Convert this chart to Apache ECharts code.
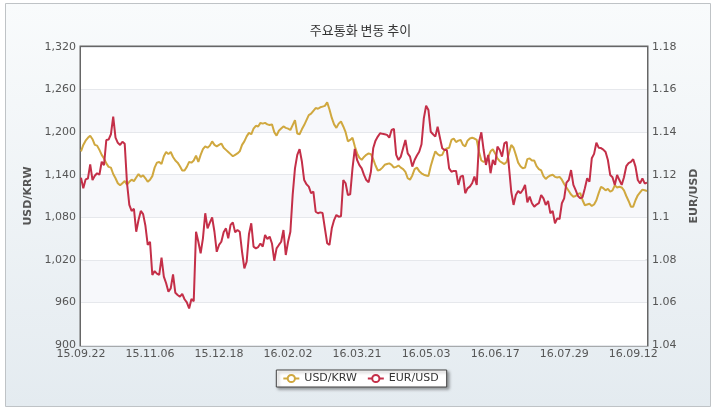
<!DOCTYPE html>
<html>
<head>
<meta charset="utf-8">
<script src="https://cdn.jsdelivr.net/npm/echarts@6/dist/echarts.min.js"></script>
<style>
html,body{margin:0;padding:0;background:#fff;}
#chart{width:721px;height:409px;}
</style>
</head>
<body>
<div id="chart"></div>
<script>
var titleText = '주요통화 변동 추이';
var seriesNames = ['USD/KRW', 'EUR/USD'];
var dates = [
'15.09.22','15.09.23','15.09.24','15.09.25','15.09.30','15.10.01','15.10.02','15.10.05','15.10.06','15.10.07',
'15.10.08','15.10.12','15.10.13','15.10.14','15.10.15','15.10.16','15.10.19','15.10.20','15.10.21','15.10.22',
'15.10.23','15.10.26','15.10.27','15.10.28','15.10.29','15.10.30','15.11.02','15.11.03','15.11.04','15.11.05',
'15.11.06','15.11.09','15.11.10','15.11.11','15.11.12','15.11.13','15.11.16','15.11.17','15.11.18','15.11.19',
'15.11.20','15.11.23','15.11.24','15.11.25','15.11.26','15.11.27','15.11.30','15.12.01','15.12.02','15.12.03',
'15.12.04','15.12.07','15.12.08','15.12.09','15.12.10','15.12.11','15.12.14','15.12.15','15.12.16','15.12.17',
'15.12.18','15.12.21','15.12.22','15.12.23','15.12.24','15.12.28','15.12.29','15.12.30','15.12.31','16.01.04',
'16.01.05','16.01.06','16.01.07','16.01.08','16.01.11','16.01.12','16.01.13','16.01.14','16.01.15','16.01.18',
'16.01.19','16.01.20','16.01.21','16.01.22','16.01.25','16.01.26','16.01.27','16.01.28','16.01.29','16.02.01',
'16.02.02','16.02.03','16.02.04','16.02.05','16.02.11','16.02.12','16.02.15','16.02.16','16.02.17','16.02.18',
'16.02.19','16.02.22','16.02.23','16.02.24','16.02.25','16.02.26','16.02.29','16.03.02','16.03.03','16.03.04',
'16.03.07','16.03.08','16.03.09','16.03.10','16.03.11','16.03.14','16.03.15','16.03.16','16.03.17','16.03.18',
'16.03.21','16.03.22','16.03.23','16.03.24','16.03.25','16.03.28','16.03.29','16.03.30','16.03.31','16.04.01',
'16.04.04','16.04.05','16.04.06','16.04.07','16.04.08','16.04.11','16.04.12','16.04.14','16.04.15','16.04.18',
'16.04.19','16.04.20','16.04.21','16.04.22','16.04.25','16.04.26','16.04.27','16.04.28','16.04.29','16.05.02',
'16.05.03','16.05.04','16.05.09','16.05.10','16.05.11','16.05.12','16.05.13','16.05.16','16.05.17','16.05.18',
'16.05.19','16.05.20','16.05.23','16.05.24','16.05.25','16.05.26','16.05.27','16.05.30','16.05.31','16.06.01',
'16.06.02','16.06.03','16.06.07','16.06.08','16.06.09','16.06.10','16.06.13','16.06.14','16.06.15','16.06.16',
'16.06.17','16.06.20','16.06.21','16.06.22','16.06.23','16.06.24','16.06.27','16.06.28','16.06.29','16.06.30',
'16.07.01','16.07.04','16.07.05','16.07.06','16.07.07','16.07.08','16.07.11','16.07.12','16.07.13','16.07.14',
'16.07.15','16.07.18','16.07.19','16.07.20','16.07.21','16.07.22','16.07.25','16.07.26','16.07.27','16.07.28',
'16.07.29','16.08.01','16.08.02','16.08.03','16.08.04','16.08.05','16.08.08','16.08.09','16.08.10','16.08.11',
'16.08.12','16.08.16','16.08.17','16.08.18','16.08.19','16.08.22','16.08.23','16.08.24','16.08.25','16.08.26',
'16.08.29','16.08.30','16.08.31','16.09.01','16.09.02','16.09.05','16.09.06','16.09.07','16.09.08','16.09.09',
'16.09.12','16.09.13','16.09.19','16.09.20','16.09.21','16.09.22','16.09.23'
];
var usdKrw = [
1173,1182,1188,1192,1195,1190,1182,1181,1175,1168,
1163,1156,1151,1150,1141,1135,1128,1125,1128,1131,
1126,1130,1133,1131,1136,1141,1137,1139,1135,1130,
1133,1138,1150,1157,1158,1155,1166,1172,1169,1172,
1165,1160,1157,1152,1146,1146,1151,1158,1157,1160,
1167,1158,1168,1176,1180,1178,1181,1187,1182,1180,
1182,1184,1178,1175,1172,1169,1166,1168,1170,1173,
1182,1187,1194,1199,1197,1205,1209,1208,1213,1212,
1213,1211,1210,1211,1200,1195,1202,1205,1208,1206,
1205,1203,1210,1217,1198,1197,1204,1210,1217,1224,
1226,1230,1234,1233,1235,1236,1237,1242,1232,1220,
1211,1206,1212,1215,1208,1200,1187,1189,1192,1180,
1170,1164,1161,1165,1168,1170,1169,1162,1153,1146,
1147,1150,1154,1155,1156,1154,1150,1151,1153,1150,
1148,1144,1135,1133,1139,1148,1150,1145,1142,1140,
1139,1138,1152,1163,1173,1169,1167,1168,1175,1177,
1178,1189,1191,1186,1188,1189,1182,1180,1188,1191,
1192,1191,1189,1172,1160,1158,1160,1165,1173,1176,
1170,1163,1159,1157,1155,1158,1170,1182,1178,1168,
1157,1152,1149,1150,1162,1163,1160,1160,1152,1148,
1146,1138,1134,1137,1139,1140,1137,1136,1137,1133,
1127,1122,1117,1112,1109,1110,1113,1114,1104,1097,
1098,1099,1096,1098,1104,1114,1123,1121,1118,1120,
1116,1118,1125,1122,1123,1122,1118,1110,1103,1095,
1095,1104,1111,1115,1119,1118,1117
];
var eurUsd = [
1.1186,1.1136,1.1178,1.1182,1.1249,1.1175,1.1195,1.1207,1.1200,1.1261,
1.1245,1.1363,1.1365,1.1390,1.1473,1.1374,1.1350,1.1340,1.1355,1.1345,
1.1160,1.1058,1.1030,1.1040,1.0932,1.0987,1.1030,1.1015,1.0960,1.0870,
1.0885,1.0729,1.0747,1.0735,1.0729,1.0810,1.0721,1.0690,1.0650,1.0666,
1.0732,1.0645,1.0635,1.0627,1.0640,1.0615,1.0600,1.0572,1.0616,1.0606,
1.0932,1.0885,1.0831,1.0901,1.1019,1.0948,1.0975,1.0999,1.0932,1.0838,
1.0870,1.0885,1.0930,1.0948,1.0901,1.0964,1.0976,1.0929,1.0940,1.0932,
1.0838,1.0760,1.0791,1.0920,1.0972,1.0862,1.0854,1.0860,1.0877,1.0862,
1.0917,1.0898,1.0909,1.0877,1.0796,1.0854,1.0870,1.0885,1.0940,1.0823,
1.0885,1.0932,1.1105,1.1230,1.1293,1.1320,1.1262,1.1175,1.1155,1.1144,
1.1113,1.1121,1.1026,1.1019,1.1023,1.1020,1.0948,1.0878,1.0870,1.0948,
1.0987,1.1011,1.1003,1.1005,1.1175,1.1160,1.1105,1.1108,1.1230,1.1321,
1.1269,1.1245,1.1230,1.1199,1.1175,1.1165,1.1214,1.1324,1.1360,1.1379,
1.1395,1.1392,1.1390,1.1387,1.1374,1.1410,1.1415,1.1293,1.1269,1.1285,
1.1324,1.1363,1.1300,1.1285,1.1238,1.1269,1.1290,1.1308,1.1343,1.1465,
1.1524,1.1504,1.1402,1.1390,1.1379,1.1426,1.1374,1.1324,1.1316,1.1316,
1.1230,1.1214,1.1218,1.1218,1.1152,1.1191,1.1196,1.1113,1.1136,1.1144,
1.1160,1.1191,1.1152,1.1355,1.1399,1.1316,1.1246,1.1293,1.1207,1.1269,
1.1246,1.1332,1.1316,1.1285,1.1347,1.1355,1.1238,1.1120,1.1058,1.1105,
1.1124,1.1113,1.1128,1.1152,1.1070,1.1097,1.1066,1.1050,1.1060,1.1066,
1.1105,1.1089,1.1058,1.1077,1.1019,1.1030,1.0972,1.0995,1.0992,1.1066,
1.1089,1.1163,1.1175,1.1222,1.1152,1.1128,1.1100,1.1089,1.1095,1.1136,
1.1183,1.1167,1.1277,1.1298,1.1350,1.1327,1.1325,1.1318,1.1307,1.1269,
1.1199,1.1188,1.1152,1.1199,1.1175,1.1152,1.1188,1.1240,1.1254,1.1260,
1.1273,1.1238,1.1175,1.1159,1.1183,1.1159,1.1163
];

var labelFont = 'DejaVu Sans, Verdana, sans-serif';
var chart = echarts.init(document.getElementById('chart'), null, {renderer: 'canvas'});
chart.setOption({
  animation: false,
  backgroundColor: '#ffffff',
  graphic: [{
    type: 'rect',
    z: -10,
    silent: true,
    shape: {x: 5.5, y: 3.5, width: 705, height: 403},
    style: {
      fill: new echarts.graphic.LinearGradient(0, 0, 0, 1, [
        {offset: 0, color: '#f9fbfc'},
        {offset: 1, color: '#e4ebf0'}
      ]),
      stroke: '#bfc3c6',
      lineWidth: 1
    }
  }],
  title: {
    text: titleText,
    left: 'center',
    top: 19,
    textStyle: {fontFamily: 'Noto Sans CJK KR', fontSize: 13, fontWeight: 'normal', color: '#333'}
  },
  legend: {
    data: seriesNames,
    left: 'center',
    top: 370,
    backgroundColor: '#ffffff',
    borderColor: '#444',
    borderWidth: 1,
    padding: [3, 8, 3, 6],
    itemWidth: 16,
    itemHeight: 9,
    itemGap: 10,
    shadowColor: 'rgba(0,0,0,0.35)',
    shadowBlur: 3,
    shadowOffsetX: 2,
    shadowOffsetY: 2,
    textStyle: {fontFamily: labelFont, fontSize: 11, color: '#333'}
  },
  grid: {
    left: 81, right: 74, top: 47, bottom: 64,
    show: true,
    backgroundColor: '#ffffff',
    borderColor: '#666666',
    borderWidth: 3,
    containLabel: false
  },
  xAxis: {
    type: 'category',
    boundaryGap: false,
    data: dates,
    axisLine: {show: false},
    axisTick: {show: false},
    splitLine: {show: false},
    axisLabel: {
      interval: 29,
      margin: 4,
      fontFamily: labelFont,
      fontSize: 11,
      color: '#555'
    }
  },
  yAxis: [{
    type: 'value',
    min: 900, max: 1320, interval: 60,
    name: 'USD/KRW',
    nameLocation: 'middle',
    nameRotate: 90,
    nameGap: 44,
    nameTextStyle: {fontFamily: labelFont, fontSize: 11, fontWeight: 'bold', color: '#555'},
    axisLine: {show: false},
    axisTick: {show: false},
    axisLabel: {
      margin: 5,
      fontFamily: labelFont, fontSize: 11, color: '#555',
      formatter: function (v) { return echarts.format.addCommas(v); }
    },
    splitLine: {show: true, lineStyle: {color: '#e6e8ec', width: 1}},
    splitArea: {show: true, areaStyle: {color: ['#ffffff', '#f7f8fb']}}
  }, {
    type: 'value',
    min: 1.04, max: 1.18, interval: 0.02,
    name: 'EUR/USD',
    nameLocation: 'middle',
    nameRotate: 90,
    nameGap: 42,
    nameTextStyle: {fontFamily: labelFont, fontSize: 11, fontWeight: 'bold', color: '#555'},
    axisLine: {show: false},
    axisTick: {show: false},
    axisLabel: {margin: 5, fontFamily: labelFont, fontSize: 11, color: '#555'},
    splitLine: {show: false},
    splitArea: {show: false}
  }],
  series: [{
    name: seriesNames[0],
    type: 'line',
    yAxisIndex: 0,
    data: usdKrw,
    showSymbol: false,
    symbol: 'emptyCircle',
    symbolSize: 6,
    color: '#d0a83f',
    lineStyle: {width: 2, color: '#d0a83f'},
    z: 3
  }, {
    name: seriesNames[1],
    type: 'line',
    yAxisIndex: 1,
    data: eurUsd,
    showSymbol: false,
    symbol: 'emptyCircle',
    symbolSize: 6,
    color: '#c42f48',
    lineStyle: {width: 2, color: '#c42f48'},
    z: 4
  }]
});
</script>
</body>
</html>
